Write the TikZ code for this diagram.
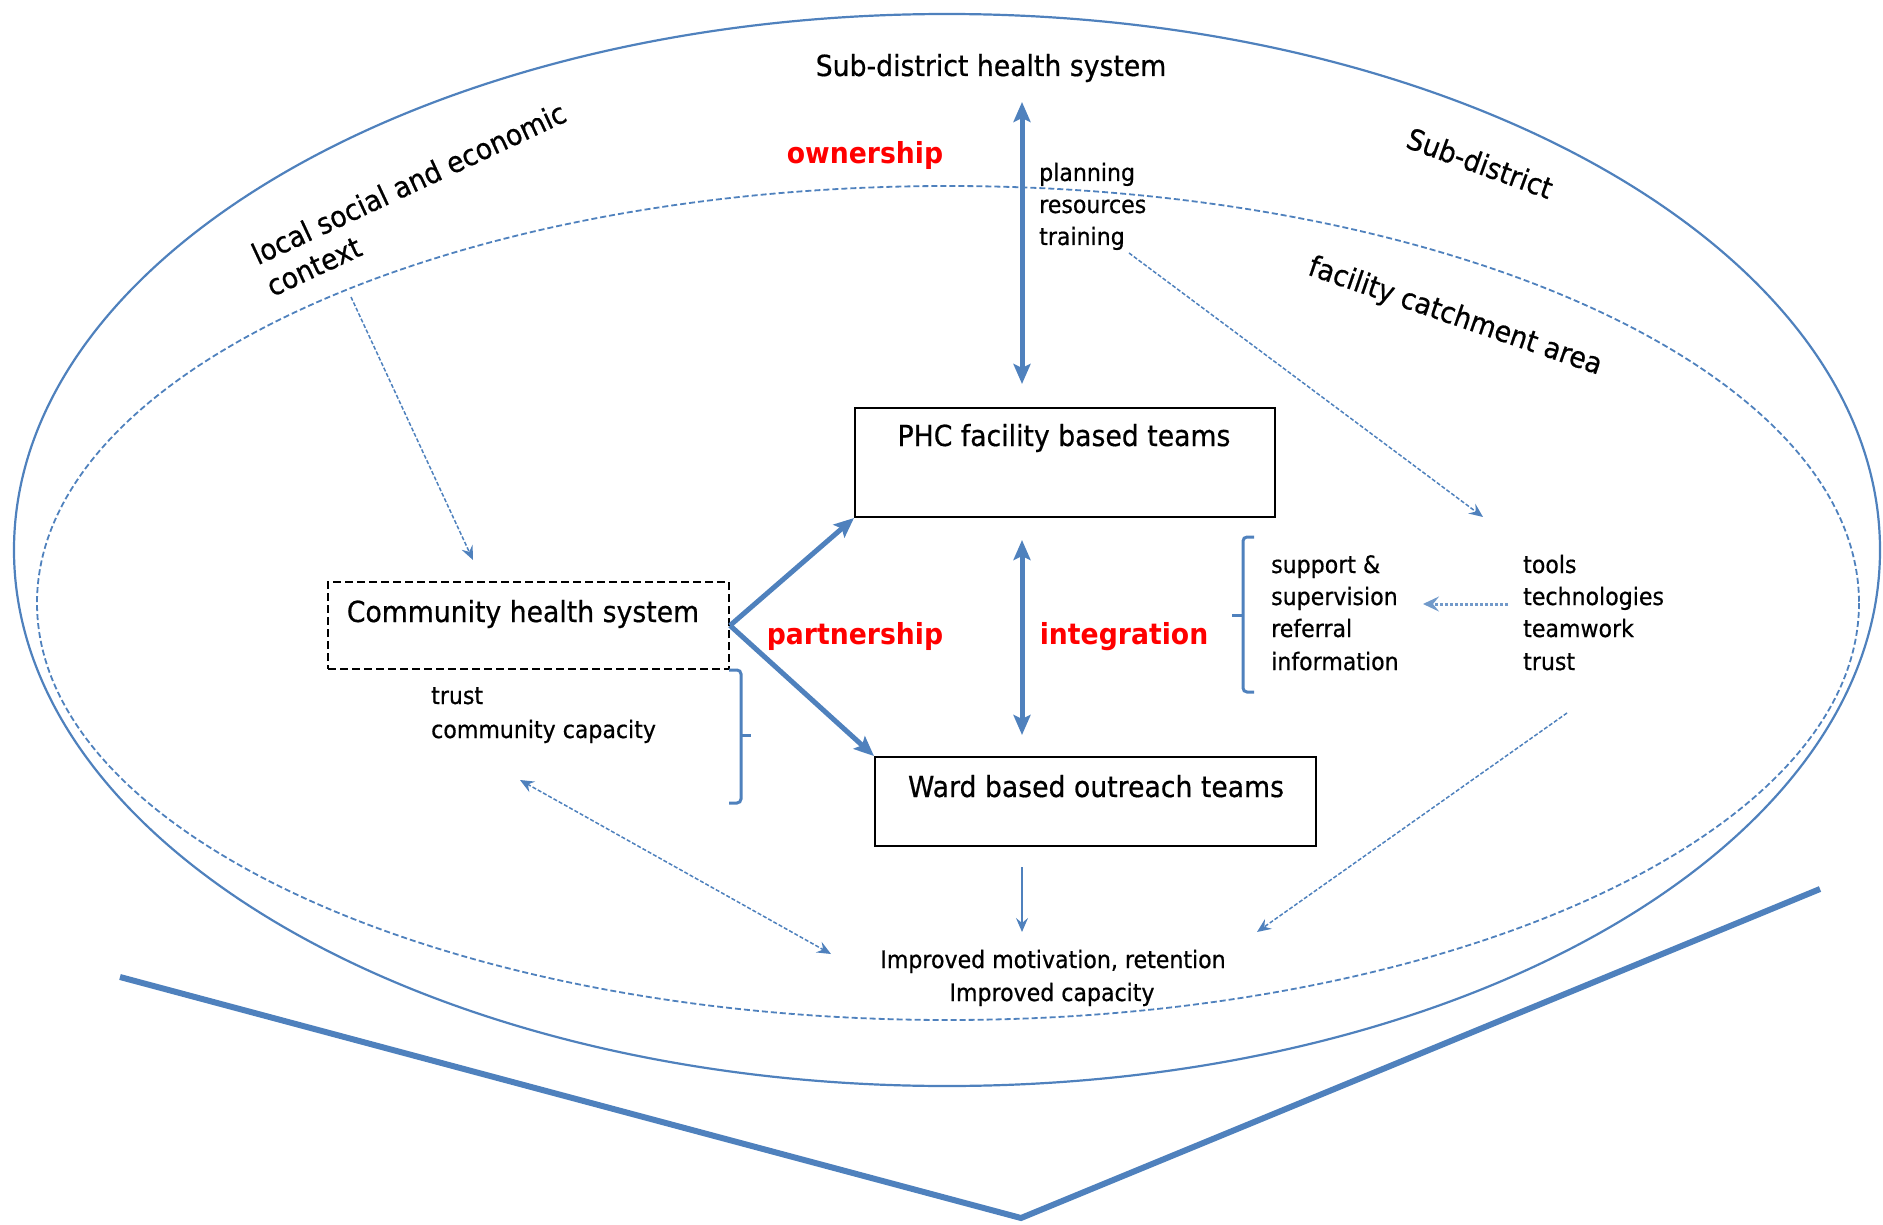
\documentclass[tikz,border=0pt]{standalone}
\usepackage{fontspec}
\setmainfont{DejaVu Sans}[FakeStretch=0.92, UprightFeatures={FakeBold=0.6}]
\usetikzlibrary{arrows.meta}
\definecolor{ablue}{RGB}{79,129,189}
\definecolor{ared}{RGB}{255,0,0}
\begin{document}
\begin{tikzpicture}[x=1pt,y=-1pt,
  big/.style={font=\fontsize{29}{35}\selectfont, inner sep=0pt},
  small/.style={font=\fontsize{24}{29}\selectfont, inner sep=0pt},
  redlbl/.style={font=\fontsize{29}{33}\selectfont\bfseries, text=ared, inner sep=0pt},
  boxstyle/.style={draw=black, line width=2pt, inner sep=0pt},
  bigtip/.tip={Stealth[length=20pt,width=17pt,inset=4pt]},
  thintip/.tip={Stealth[length=14pt,width=12pt,inset=5pt]},
  bigarr/.style={draw=ablue, line width=5pt, -bigtip},
  bigdbl/.style={draw=ablue, line width=5pt, bigtip-bigtip},
  thinarr/.style={draw=ablue, line width=1.5pt, dash pattern=on 4pt off 2pt, -thintip},
  thindbl/.style={draw=ablue, line width=1.5pt, dash pattern=on 4pt off 2pt, thintip-thintip},
  bracestyle/.style={draw=ablue, line width=3pt, rounded corners=4pt}
]
\useasboundingbox (0,0) rectangle (1883,1225);

% ellipses and chevron
\draw[ablue, line width=2.2pt] (947,550) ellipse [x radius=933, y radius=536];
\draw[ablue, line width=1.8pt, dash pattern=on 6pt off 3pt] (948,603) ellipse [x radius=911, y radius=417];
\coordinate (vl) at (120,977);
\coordinate (vb) at (1021,1218);
\coordinate (vr) at (1820,889);
\draw[ablue, line width=6pt] (vl) -- (vb) -- (vr);

% titles and rotated labels
\node[big, anchor=base] (title) at (991,76) {Sub-district health system};
\node[big, rotate=25, align=left] (ctx) at (416,199) {local social and economic\\context};
\node[big, rotate=-20] (sd) at (1480,163) {Sub-district};
\node[big, rotate=-19] (fca) at (1455,317) {facility catchment area};

% boxes
\node[boxstyle, minimum width=420, minimum height=109] (phc) at (1065,462.5) {};
\node[big, anchor=base] (phctxt) at (1064,446) {PHC facility based teams};
\node[boxstyle, minimum width=441, minimum height=89] (ward) at (1095.5,801.5) {};
\node[big, anchor=base] (wardtxt) at (1096,797) {Ward based outreach teams};
\node[draw=black, line width=2pt, dash pattern=on 8pt off 4pt, minimum width=401, minimum height=87, inner sep=0pt] (chs) at (528.5,625.5) {};
\node[big, anchor=base] (chstxt) at (523,622) {Community health system};

% red labels
\node[redlbl, anchor=base] (own) at (865,164) {ownership};
\node[redlbl, anchor=base] (part) at (855,644) {partnership};
\node[redlbl, anchor=base] (integ) at (1124,644) {integration};

% small lists
\node[small, anchor=base west] (plan) at (1039,181) {planning};
\node[small, anchor=base west] (res) at (1039,213) {resources};
\node[small, anchor=base west] (train) at (1039,245) {training};
\node[small, anchor=base west] (sup1) at (1271,573) {support \&};
\node[small, anchor=base west] (sup2) at (1271,605) {supervision};
\node[small, anchor=base west] (sup3) at (1271,637) {referral};
\node[small, anchor=base west] (sup4) at (1271,670) {information};
\node[small, anchor=base west] (tl1) at (1523,573) {tools};
\node[small, anchor=base west] (tl2) at (1523,605) {technologies};
\node[small, anchor=base west] (tl3) at (1523,637) {teamwork};
\node[small, anchor=base west] (tl4) at (1523,670) {trust};
\node[small, anchor=base west] (ct1) at (431,704) {trust};
\node[small, anchor=base west] (ct2) at (431,738) {community capacity};
\node[small, anchor=base] (imp1) at (1053,968) {Improved motivation, retention};
\node[small, anchor=base] (imp2) at (1052,1001) {Improved capacity};

% thick arrows
\coordinate (t1) at (1022,102);
\coordinate (t2) at (1022,384);
\draw[bigdbl] (t1) -- (t2);
\coordinate (m1) at (1022,540);
\coordinate (m2) at (1022,735);
\draw[bigdbl] (m1) -- (m2);
\draw[bigarr] (chs.east) -- (phc.south west);
\draw[bigarr] (chs.east) -- (ward.north west);

% thin arrows
\coordinate (cx1) at (351,297);
\coordinate (cx2) at (473,560);
\draw[thinarr] (cx1) -- (cx2);
\coordinate (tr1) at (1129,253);
\coordinate (tr2) at (1483,517);
\draw[thinarr] (tr1) -- (tr2);
\coordinate (rl1) at (1567,713);
\coordinate (rl2) at (1257,932);
\draw[thinarr] (rl1) -- (rl2);
\coordinate (ll1) at (520,780);
\coordinate (ll2) at (831,954);
\draw[thindbl] (ll1) -- (ll2);
\coordinate (wd1) at (1022,867);
\coordinate (wd2) at (1022,932);
\draw[draw=ablue, line width=1.5pt, -thintip] (wd1) -- (wd2);
\coordinate (to1) at (1508,604);
\coordinate (to2) at (1423,604);
\draw[draw=ablue!80, line width=3pt, dash pattern=on 3pt off 2pt, -{Stealth[length=16pt,width=15pt,inset=6pt]}] (to1) -- (to2);

% braces
\draw[bracestyle] (729,670) -- (741,670) -- (741,803) -- (729,803);
\draw[bracestyle] (741,735) -- (751,735);
\draw[bracestyle] (1254,537) -- (1243,537) -- (1243,692) -- (1254,692);
\draw[bracestyle] (1243,615) -- (1232,615);
\end{tikzpicture}
\end{document}
